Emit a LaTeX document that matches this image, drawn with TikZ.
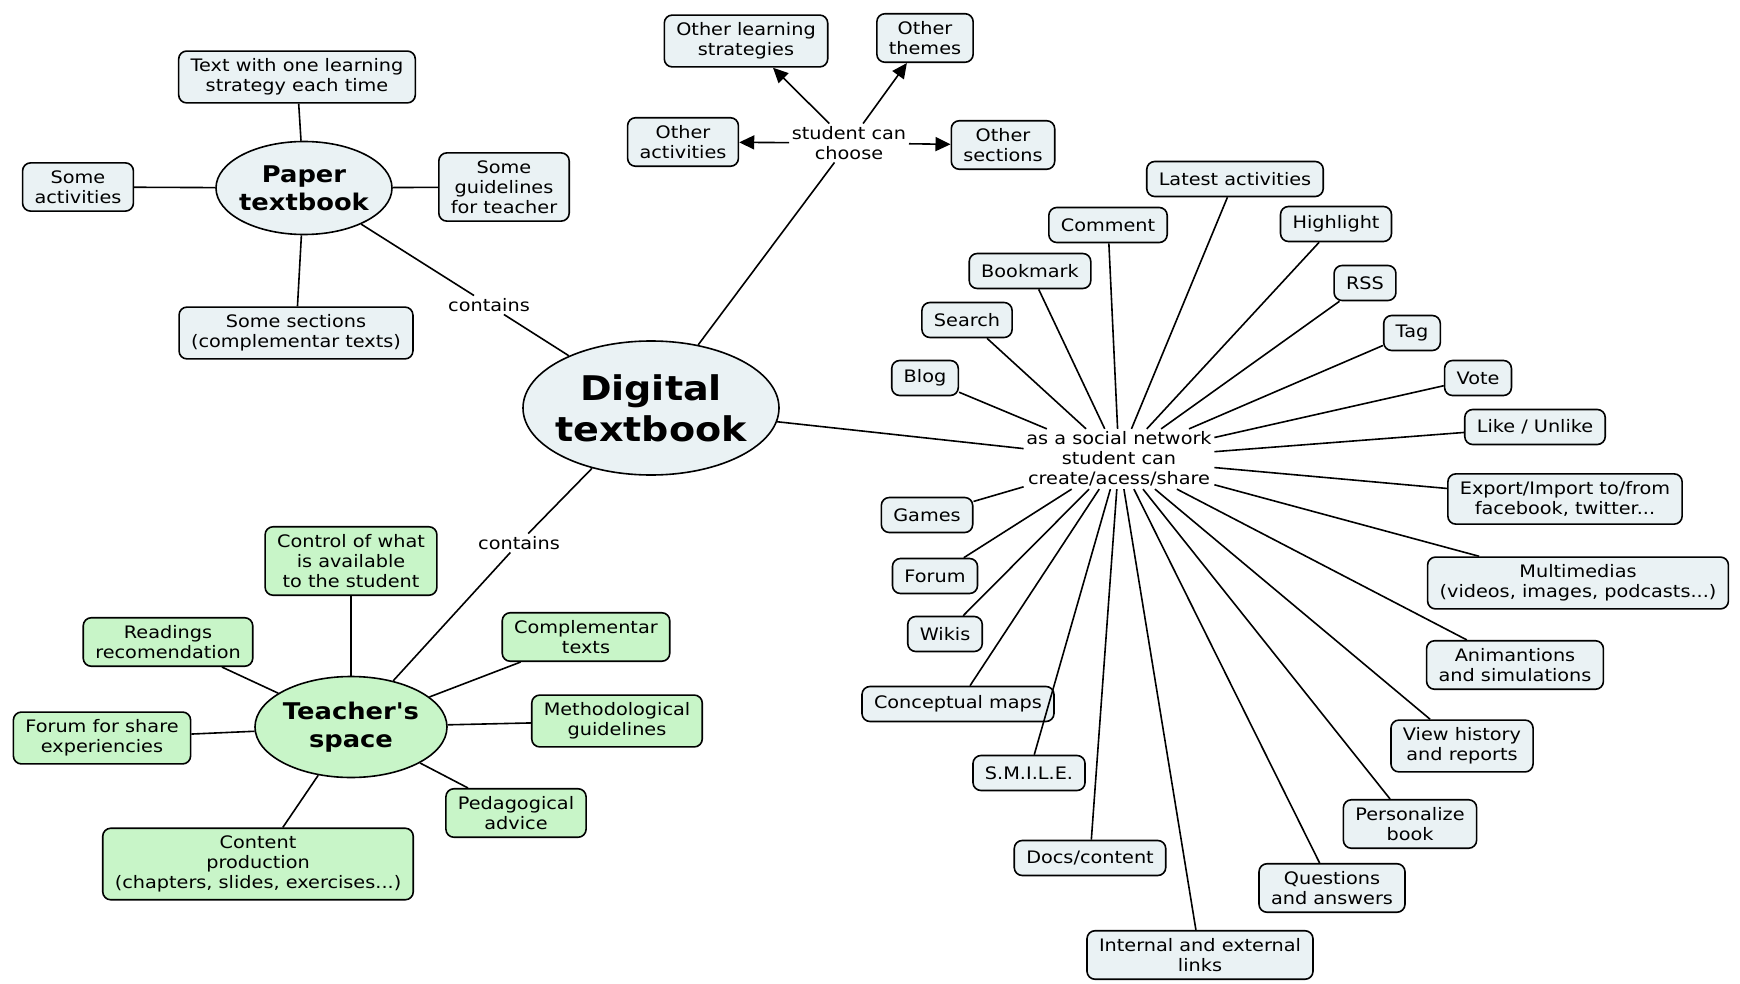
\documentclass[tikz,border=0pt]{standalone}
\usepackage{fontspec}
\setmainfont{DejaVu Sans}[FakeStretch=1.12]
\newfontfamily\hubfont{DejaVu Sans}[FakeStretch=1.12]
\usepackage{xcolor}
\usepackage{tikz}
\usetikzlibrary{arrows.meta,positioning,shapes.geometric}

\definecolor{mapblue}{HTML}{EAF2F4}
\definecolor{mapgreen}{HTML}{C8F5C8}

\begin{document}
\begin{tikzpicture}[
        x=5pt, y=-5pt,
        every node/.style={font=\fontsize{8.6}{10}\selectfont, align=center},
        topic/.style={rectangle, rounded corners=4pt, draw, fill=mapblue, line width=0.8pt, inner xsep=6pt, inner ysep=3.8pt, minimum height=17.5pt},
        tspace/.style={topic, fill=mapgreen},
        hub/.style={ellipse, draw, fill=mapblue, line width=0.8pt, inner xsep=-4pt, inner ysep=0pt},
        link/.style={inner sep=1pt},
        choice/.style={-{Triangle[length=7.5pt,width=7pt]}},
        line width=0.8pt
    ]
    \useasboundingbox (0,0) rectangle (174,98.4);

    % Digital textbook
    \node[hub, minimum width=128pt, minimum height=67pt, font=\fontsize{17}{20.5}\hubfont\bfseries] (digital) at (65.1,40.8) {Digital\\textbook};

    % Paper textbook
    \node[hub, minimum width=88pt, minimum height=46.5pt, font=\fontsize{11.5}{14}\hubfont\bfseries] (paper) at (30.4,18.8) {Paper\\textbook};
    \node[topic] (textone) at (29.7,7.7) {Text with one learning\\strategy each time};
    \node[topic] (someact) at (7.8,18.7) {Some\\activities};
    \node[topic] (guide) at (50.4,18.7) {Some\\guidelines\\for teacher};
    \node[topic] (sections) at (29.6,33.3) {Some sections\\(complementar texts)};
    \node[link] (containsA) at (48.9,30.5) {contains};

    % Student can choose
    \node[link] (choose) at (84.9,14.3) {student can\\choose};
    \node[topic] (otherstrat) at (74.6,4.1) {Other learning\\strategies};
    \node[topic] (otherthemes) at (92.5,3.8) {Other\\themes};
    \node[topic] (otheract) at (68.3,14.2) {Other\\activities};
    \node[topic] (othersect) at (100.3,14.5) {Other\\sections};

    % Teacher's space
    \node[link] (containsB) at (51.9,54.3) {contains};
    \node[hub, fill=mapgreen, minimum width=96pt, minimum height=50.5pt, font=\fontsize{11.5}{14}\hubfont\bfseries] (teacher) at (35.1,72.7) {Teacher's\\space};
    \node[tspace] (control) at (35.1,56.1) {Control of what\\is available\\to the student};
    \node[tspace] (readings) at (16.8,64.2) {Readings\\recomendation};
    \node[tspace] (compl) at (58.6,63.7) {Complementar\\texts};
    \node[tspace] (forumshare) at (10.2,73.8) {Forum for share\\experiencies};
    \node[tspace] (method) at (61.7,72.1) {Methodological\\guidelines};
    \node[tspace] (pedag) at (51.6,81.3) {Pedagogical\\advice};
    \node[tspace] (content) at (25.8,86.4) {Content\\production\\(chapters, slides, exercises...)};

    % Social network
    \node[link] (social) at (111.9,45.9) {as a social network\\student can\\create/acess/share};
    \node[topic] (latest) at (123.5,17.9) {Latest activities};
    \node[topic] (comment) at (110.8,22.5) {Comment};
    \node[topic] (highlight) at (133.6,22.4) {Highlight};
    \node[topic] (bookmark) at (103.0,27.1) {Bookmark};
    \node[topic] (rss) at (136.5,28.3) {RSS};
    \node[topic] (search) at (96.7,32.0) {Search};
    \node[topic] (tag) at (141.2,33.3) {Tag};
    \node[topic] (blog) at (92.5,37.8) {Blog};
    \node[topic] (vote) at (147.8,37.8) {Vote};
    \node[topic] (like) at (153.5,42.7) {Like / Unlike};
    \node[topic] (export) at (156.5,49.9) {Export/Import to/from\\facebook, twitter...};
    \node[topic] (games) at (92.7,51.5) {Games};
    \node[topic] (multi) at (157.8,58.3) {Multimedias\\(videos, images, podcasts...)};
    \node[topic] (forum) at (93.5,57.6) {Forum};
    \node[topic] (wikis) at (94.5,63.4) {Wikis};
    \node[topic] (anim) at (151.5,66.5) {Animantions\\and simulations};
    \node[topic] (concept) at (95.8,70.4) {Conceptual maps};
    \node[topic] (history) at (146.2,74.6) {View history\\and reports};
    \node[topic] (smile) at (102.9,77.3) {S.M.I.L.E.};
    \node[topic] (personal) at (141.0,82.4) {Personalize\\book};
    \node[topic] (docs) at (109.0,85.8) {Docs/content};
    \node[topic] (questions) at (133.2,88.8) {Questions\\and answers};
    \node[topic] (links) at (120.0,95.5) {Internal and external\\links};

    % Connections paper textbook
    \foreach \n in {textone,someact,guide,sections} {
        \draw (paper) -- (\n);
    }
    \draw (paper) -- (containsA) -- (digital);

    % Connections student can choose
    \draw (digital) -- (choose);
    \foreach \n in {otherstrat,otherthemes,otheract,othersect} {
        \draw[choice] (choose) -- (\n);
    }

    % Connections teacher's space
    \draw (digital) -- (containsB) -- (teacher);
    \foreach \n in {control,readings,compl,forumshare,method,pedag,content} {
        \draw (teacher) -- (\n);
    }

    % Connections social network
    \draw (digital) -- (social);
    \foreach \n in {latest,comment,highlight,bookmark,rss,search,tag,blog,vote,like,export,games,multi,forum,wikis,anim,concept,history,smile,personal,docs,questions,links} {
        \draw (social) -- (\n);
    }

\end{tikzpicture}
\end{document}
